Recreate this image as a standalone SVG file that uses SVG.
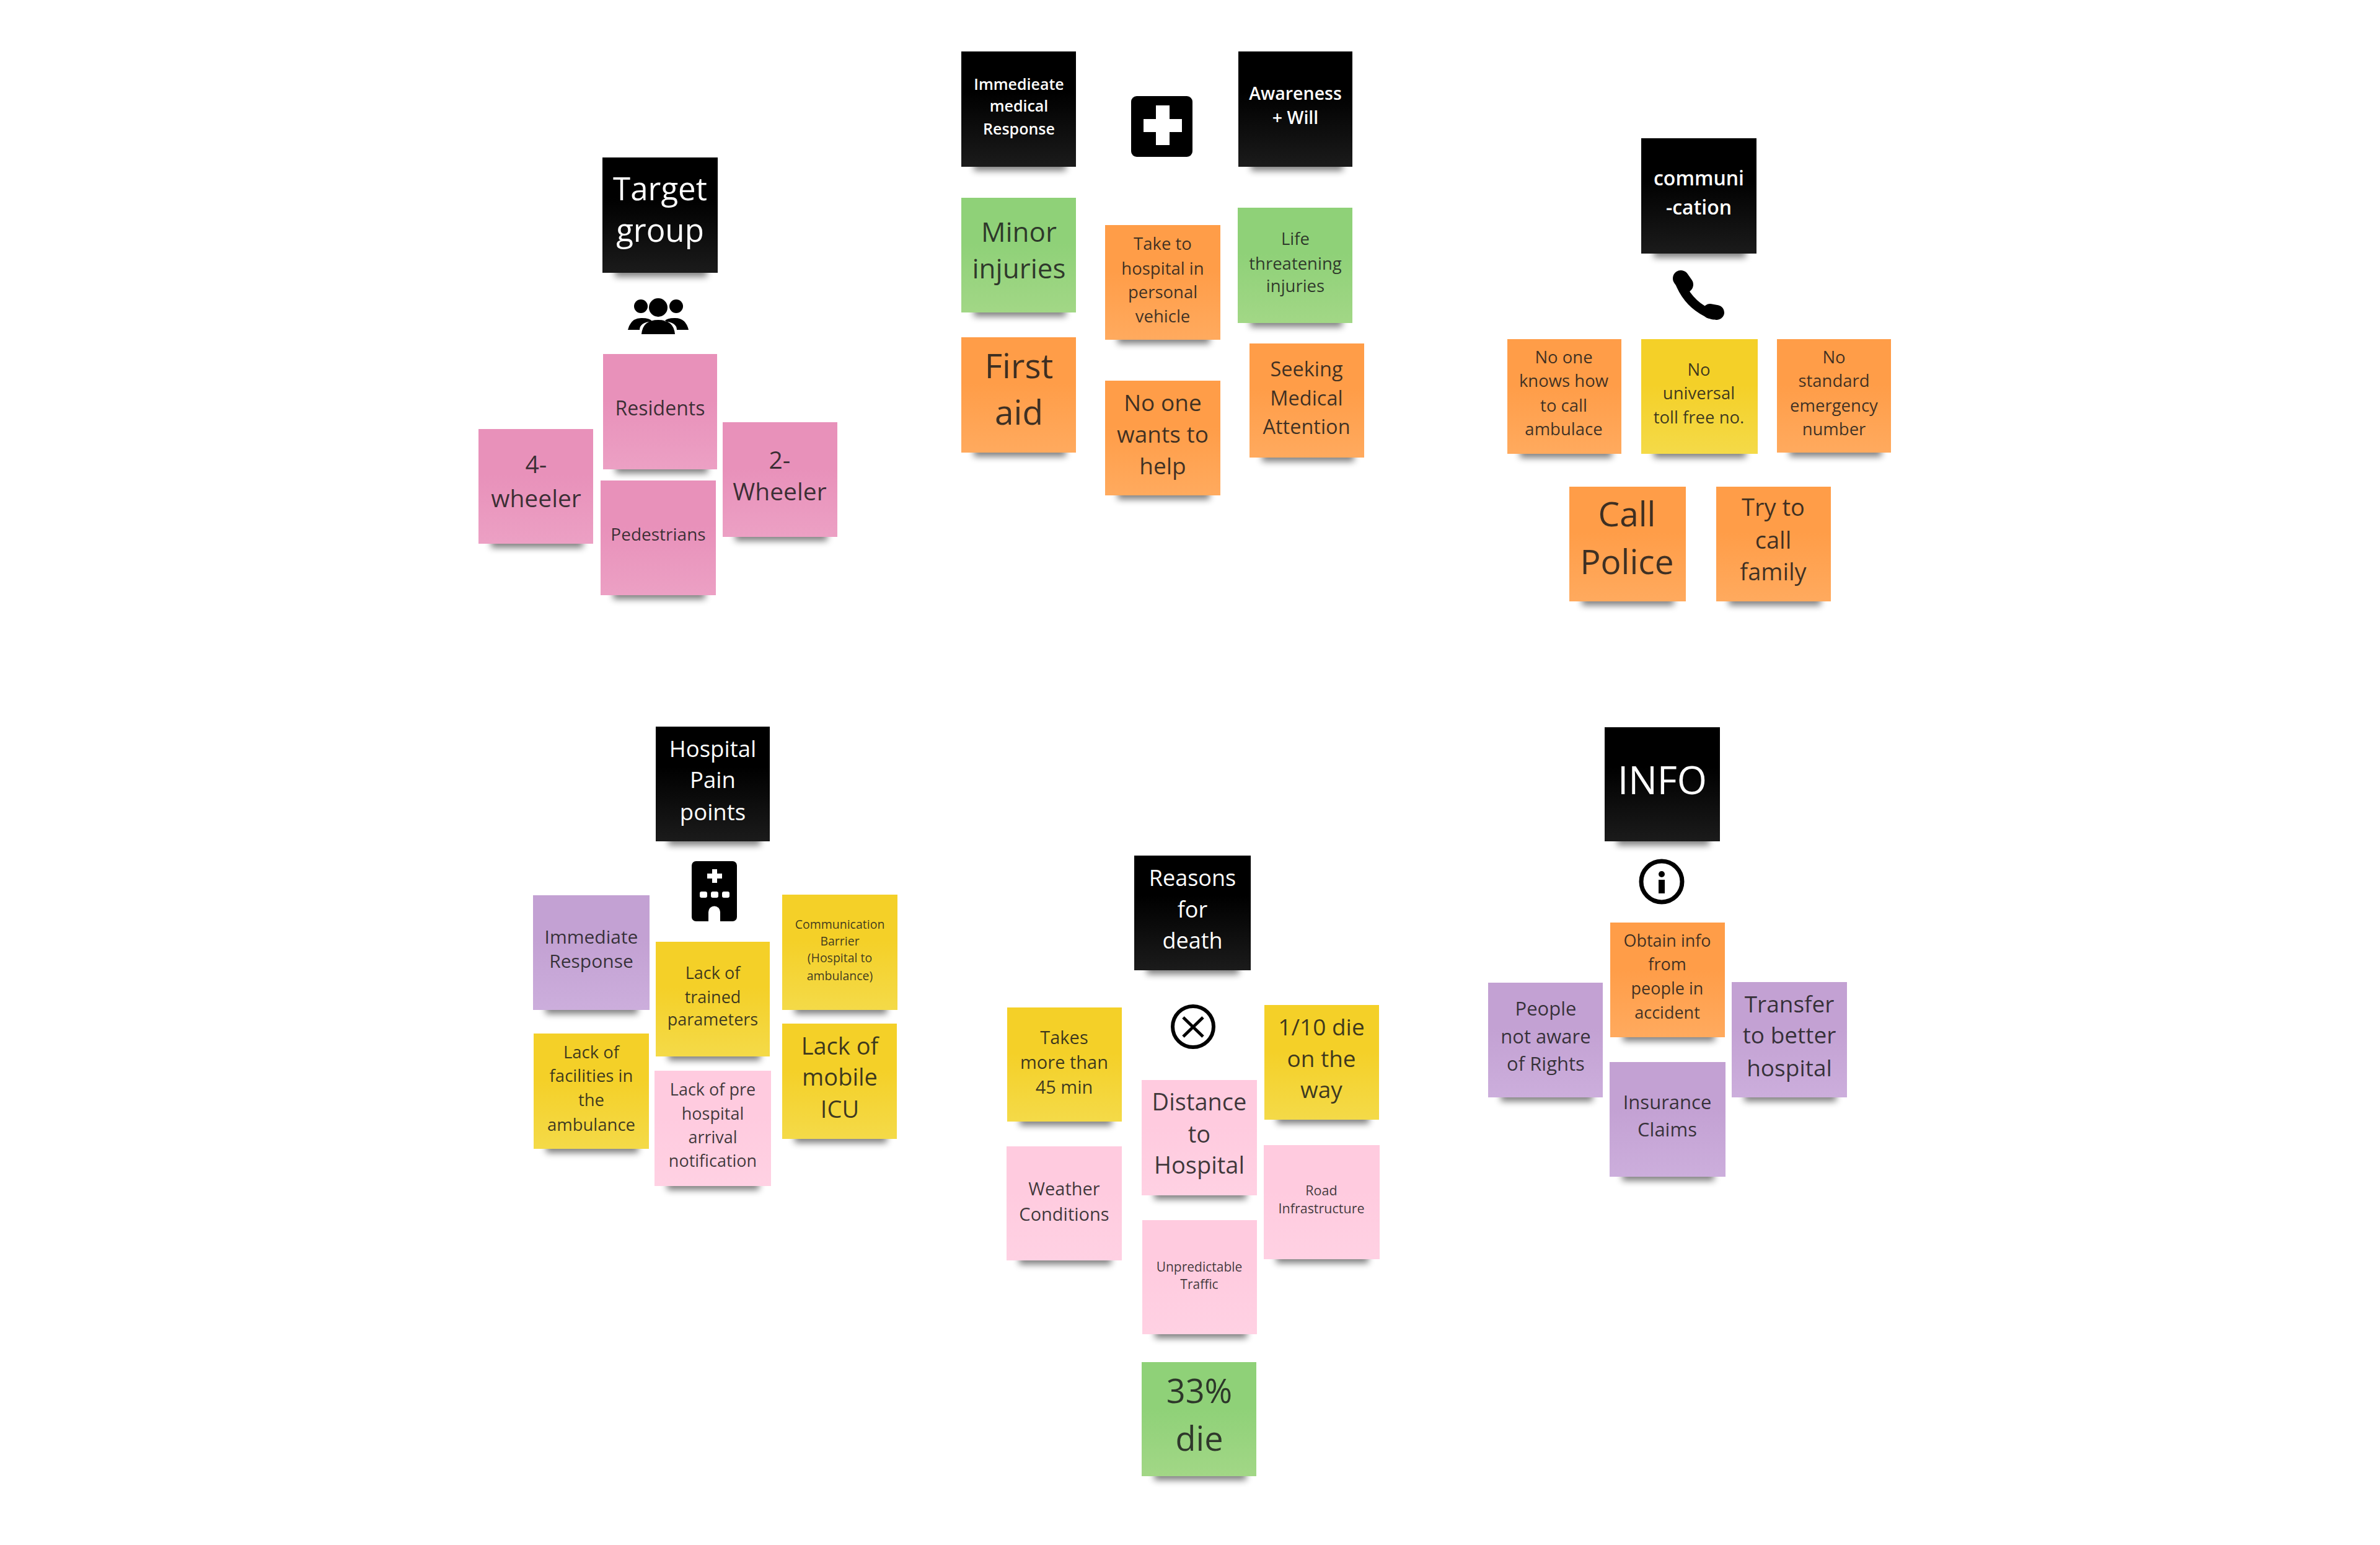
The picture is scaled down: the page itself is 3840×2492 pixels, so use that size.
<svg xmlns="http://www.w3.org/2000/svg" width="3840" height="2492" viewBox="0 0 3840 2492">
<style>
text{font-family:"Open Sans","Noto Sans","Liberation Sans",sans-serif;text-anchor:middle;fill:#1c1c1c;fill-opacity:.85;transform:translateY(1px)}
.w text{fill:#fff;fill-opacity:1;font-weight:500}
.w.b text{font-weight:600}
.s{fill:#000;opacity:.5;filter:url(#b);transform-box:fill-box;transform-origin:center;transform:translateY(-2px) scaleX(.9) scaleY(.85)}
.k{fill:url(#gk)}.p{fill:url(#gp)}.g{fill:url(#gg)}.o{fill:url(#go)}.y{fill:url(#gy)}.l{fill:url(#gl)}.v{fill:url(#gv)}
.ic{fill:#000}
</style>
<defs>
<filter id="b" x="-20%" y="-100%" width="140%" height="300%"><feGaussianBlur stdDeviation="6"/></filter>
<linearGradient id="gk" x1="0" y1="0" x2="0" y2="1"><stop offset=".35" stop-color="#000"/><stop offset="1" stop-color="#1b1b1b"/></linearGradient>
<linearGradient id="gp" x1="0" y1="0" x2="0" y2="1"><stop offset=".4" stop-color="#E891BA"/><stop offset="1" stop-color="#ECA0C4"/></linearGradient>
<linearGradient id="gg" x1="0" y1="0" x2="0" y2="1"><stop offset=".4" stop-color="#8FD178"/><stop offset="1" stop-color="#A2D786"/></linearGradient>
<linearGradient id="go" x1="0" y1="0" x2="0" y2="1"><stop offset=".4" stop-color="#FF9D48"/><stop offset="1" stop-color="#FFAA5E"/></linearGradient>
<linearGradient id="gy" x1="0" y1="0" x2="0" y2="1"><stop offset=".4" stop-color="#F4D028"/><stop offset="1" stop-color="#F4DA48"/></linearGradient>
<linearGradient id="gl" x1="0" y1="0" x2="0" y2="1"><stop offset=".4" stop-color="#FFCBDF"/><stop offset="1" stop-color="#FFD1E3"/></linearGradient>
<linearGradient id="gv" x1="0" y1="0" x2="0" y2="1"><stop offset=".4" stop-color="#C3A1D3"/><stop offset="1" stop-color="#CCAEDC"/></linearGradient>
</defs>
<rect width="3840" height="2492" fill="#fff"/>

<g id="target-group" class="w"><rect class="s" x="984" y="430" width="165" height="20"/><rect class="k" x="972" y="254" width="186" height="186"/><g font-size="51"><text x="1065" y="322">Target</text><text x="1065" y="389">group</text></g></g>
<g id="icon-people"><circle class="ic" cx="1034" cy="494" r="11"/><circle class="ic" cx="1062" cy="496" r="15"/><circle class="ic" cx="1091" cy="494" r="11"/><path class="ic" d="M1013,532Q1018,512 1036,513Q1048,513 1052,518Q1032,520 1032,532ZM1111,532Q1106,512 1088,513Q1076,513 1072,518Q1092,520 1092,532ZM1035,539Q1037,516 1062,516Q1087,516 1089,539Z"/></g>
<g id="residents"><rect class="s" x="985" y="747" width="165" height="20"/><rect class="p" x="973" y="571" width="184" height="186"/><text x="1065" y="669" font-size="32">Residents</text></g>
<g id="four-wheeler"><rect class="s" x="784" y="867" width="165" height="20"/><rect class="p" x="772" y="692" width="185" height="185"/><g font-size="39"><text x="865" y="762">4-</text><text x="865" y="817">wheeler</text></g></g>
<g id="two-wheeler"><rect class="s" x="1178" y="856" width="165" height="20"/><rect class="p" x="1166" y="681" width="185" height="185"/><g font-size="39"><text x="1258" y="755">2-</text><text x="1258" y="806">Wheeler</text></g></g>
<g id="pedestrians"><rect class="s" x="981" y="950" width="165" height="20"/><rect class="p" x="969" y="775" width="186" height="185"/><text x="1062" y="871" font-size="28">Pedestrians</text></g>

<g id="immediate-medical" class="w b"><rect class="s" x="1563" y="259" width="165" height="20"/><rect class="k" x="1551" y="83" width="185" height="186"/><g font-size="25"><text x="1644" y="144">Immedieate</text><text x="1644" y="179">medical</text><text x="1644" y="216">Response</text></g></g>
<g id="icon-plus"><rect class="ic" x="1825" y="155" width="99" height="98" rx="9"/><path fill="#fff" d="M1865,170h22v22h20v21h-20v21h-22v-21h-20v-21h20z"/></g>
<g id="awareness" class="w b"><rect class="s" x="2010" y="259" width="165" height="20"/><rect class="k" x="1998" y="83" width="184" height="186"/><g font-size="28.500"><text x="2090" y="160">Awareness</text><text x="2090" y="199">+ Will</text></g></g>
<g id="minor-injuries"><rect class="s" x="1563" y="494" width="165" height="20"/><rect class="g" x="1551" y="319" width="185" height="185"/><g font-size="44"><text x="1644" y="389">Minor</text><text x="1644" y="448">injuries</text></g></g>
<g id="life-threatening"><rect class="s" x="2009" y="511" width="165" height="20"/><rect class="g" x="1997" y="335" width="185" height="186"/><g font-size="27.500"><text x="2090" y="394">Life</text><text x="2090" y="434">threatening</text><text x="2090" y="470">injuries</text></g></g>
<g id="take-to-hospital"><rect class="s" x="1795" y="538" width="165" height="20"/><rect class="o" x="1783" y="363" width="186" height="185"/><g font-size="27.500"><text x="1876" y="402">Take to</text><text x="1876" y="442">hospital in</text><text x="1876" y="480">personal</text><text x="1876" y="519">vehicle</text></g></g>
<g id="first-aid"><rect class="s" x="1563" y="720" width="165" height="20"/><rect class="o" x="1551" y="544" width="185" height="186"/><g font-size="55"><text x="1644" y="609">First</text><text x="1644" y="684">aid</text></g></g>
<g id="seeking-attention"><rect class="s" x="2028" y="728" width="165" height="20"/><rect class="o" x="2016" y="554" width="185" height="184"/><g font-size="32.500"><text x="2108" y="606">Seeking</text><text x="2108" y="653">Medical</text><text x="2108" y="699">Attention</text></g></g>
<g id="no-one-help"><rect class="s" x="1795" y="789" width="165" height="20"/><rect class="o" x="1783" y="614" width="186" height="185"/><g font-size="37"><text x="1876" y="662">No one</text><text x="1876" y="713">wants to</text><text x="1876" y="764">help</text></g></g>

<g id="communication" class="w b"><rect class="s" x="2660" y="399" width="165" height="20"/><rect class="k" x="2648" y="223" width="186" height="186"/><g font-size="32"><text x="2741" y="298">communi</text><text x="2741" y="345">-cation</text></g></g>
<g id="icon-phone" fill="none" stroke="#000" stroke-linecap="round"><path stroke-width="26" d="M2712,449L2719,459"/><path stroke-width="15" d="M2712,460Q2728,495 2764,508"/><path stroke-width="24" d="M2759,502L2770,504"/></g>
<g id="no-one-knows"><rect class="s" x="2444" y="722" width="165" height="20"/><rect class="o" x="2432" y="547" width="184" height="185"/><g font-size="27.500"><text x="2523" y="585">No one</text><text x="2523" y="623">knows how</text><text x="2523" y="663">to call</text><text x="2523" y="701">ambulace</text></g></g>
<g id="no-universal"><rect class="s" x="2660" y="722" width="165" height="20"/><rect class="y" x="2648" y="547" width="188" height="185"/><g font-size="27.500"><text x="2741" y="605">No</text><text x="2741" y="643">universal</text><text x="2741" y="682">toll free no.</text></g></g>
<g id="no-standard"><rect class="s" x="2879" y="720" width="165" height="20"/><rect class="o" x="2867" y="547" width="184" height="183"/><g font-size="27.500"><text x="2959" y="585">No</text><text x="2959" y="623">standard</text><text x="2959" y="663">emergency</text><text x="2959" y="701">number</text></g></g>
<g id="call-police"><rect class="s" x="2544" y="960" width="165" height="20"/><rect class="o" x="2532" y="785" width="188" height="185"/><g font-size="55"><text x="2625" y="848">Call</text><text x="2625" y="925">Police</text></g></g>
<g id="try-family"><rect class="s" x="2781" y="960" width="165" height="20"/><rect class="o" x="2769" y="785" width="185" height="185"/><g font-size="38"><text x="2861" y="831">Try to</text><text x="2861" y="884">call</text><text x="2861" y="935">family</text></g></g>

<g id="hospital-pain" class="w"><rect class="s" x="1070" y="1347" width="165" height="20"/><rect class="k" x="1058" y="1172" width="184" height="185"/><g font-size="36.500"><text x="1150" y="1220">Hospital</text><text x="1150" y="1270">Pain</text><text x="1150" y="1322">points</text></g></g>
<g id="icon-hospital"><rect class="ic" x="1116" y="1389" width="73" height="97" rx="7"/><path fill="#fff" d="M1149,1402h8v7h8v8h-8v7h-8v-7h-8v-8h8z"/><rect fill="#fff" x="1129" y="1438" width="12" height="10" rx="3"/><rect fill="#fff" x="1147" y="1438" width="12" height="10" rx="3"/><rect fill="#fff" x="1165" y="1438" width="12" height="10" rx="3"/><path fill="#fff" d="M1143,1486v-15a9.500,9.500 0 0 1 19,0v15z"/></g>
<g id="immediate-response"><rect class="s" x="872" y="1619" width="165" height="20"/><rect class="v" x="860" y="1444" width="188" height="185"/><g font-size="30"><text x="954" y="1521">Immediate</text><text x="954" y="1560">Response</text></g></g>
<g id="communication-barrier"><rect class="s" x="1274" y="1619" width="165" height="20"/><rect class="y" x="1262" y="1443" width="186" height="186"/><g font-size="19.500"><text x="1355" y="1497">Communication</text><text x="1355" y="1524">Barrier</text><text x="1355" y="1551">(Hospital to</text><text x="1355" y="1580">ambulance)</text></g></g>
<g id="lack-trained"><rect class="s" x="1070" y="1694" width="165" height="20"/><rect class="y" x="1058" y="1519" width="184" height="185"/><g font-size="27"><text x="1150" y="1578">Lack of</text><text x="1150" y="1617">trained</text><text x="1150" y="1653">parameters</text></g></g>
<g id="lack-facilities"><rect class="s" x="873" y="1843" width="165" height="20"/><rect class="y" x="861" y="1667" width="186" height="186"/><g font-size="27.500"><text x="954" y="1706">Lack of</text><text x="954" y="1744">facilities in</text><text x="954" y="1783">the</text><text x="954" y="1823">ambulance</text></g></g>
<g id="lack-mobile-icu"><rect class="s" x="1274" y="1827" width="165" height="20"/><rect class="y" x="1262" y="1651" width="185" height="186"/><g font-size="38"><text x="1355" y="1700">Lack of</text><text x="1355" y="1750">mobile</text><text x="1355" y="1802">ICU</text></g></g>
<g id="lack-pre-hospital"><rect class="s" x="1068" y="1903" width="165" height="20"/><rect class="l" x="1056" y="1727" width="188" height="186"/><g font-size="27"><text x="1150" y="1766">Lack of pre</text><text x="1150" y="1805">hospital</text><text x="1150" y="1843">arrival</text><text x="1150" y="1881">notification</text></g></g>

<g id="reasons-death" class="w"><rect class="s" x="1842" y="1555" width="165" height="20"/><rect class="k" x="1830" y="1380" width="188" height="185"/><g font-size="36"><text x="1924" y="1428">Reasons</text><text x="1924" y="1479">for</text><text x="1924" y="1529">death</text></g></g>
<g id="icon-cross" fill="none" stroke="#000"><circle cx="1925" cy="1656" r="33" stroke-width="6"/><path stroke-width="5" d="M1909,1641L1941,1672M1941,1641L1909,1672"/></g>
<g id="takes-45"><rect class="s" x="1637" y="1799" width="165" height="20"/><rect class="y" x="1625" y="1625" width="185" height="184"/><g font-size="29"><text x="1717" y="1683">Takes</text><text x="1717" y="1723">more than</text><text x="1717" y="1763">45 min</text></g></g>
<g id="one-tenth"><rect class="s" x="2052" y="1796" width="165" height="20"/><rect class="y" x="2040" y="1621" width="185" height="185"/><g font-size="37"><text x="2132" y="1669">1/10 die</text><text x="2132" y="1720">on the</text><text x="2132" y="1770">way</text></g></g>
<g id="distance"><rect class="s" x="1854" y="1918" width="165" height="20"/><rect class="l" x="1842" y="1742" width="186" height="186"/><g font-size="38"><text x="1935" y="1790">Distance</text><text x="1935" y="1842">to</text><text x="1935" y="1892">Hospital</text></g></g>
<g id="weather"><rect class="s" x="1636" y="2023" width="165" height="20"/><rect class="l" x="1624" y="1849" width="186" height="184"/><g font-size="29"><text x="1717" y="1927">Weather</text><text x="1717" y="1968">Conditions</text></g></g>
<g id="road"><rect class="s" x="2051" y="2021" width="165" height="20"/><rect class="l" x="2039" y="1847" width="187" height="184"/><g font-size="21.500"><text x="2132" y="1927">Road</text><text x="2132" y="1956">Infrastructure</text></g></g>
<g id="traffic"><rect class="s" x="1855" y="2142" width="165" height="20"/><rect class="l" x="1843" y="1968" width="185" height="184"/><g font-size="21"><text x="1935" y="2050">Unpredictable</text><text x="1935" y="2078">Traffic</text></g></g>
<g id="thirty-three"><rect class="s" x="1854" y="2371" width="165" height="20"/><rect class="g" x="1842" y="2197" width="185" height="184"/><g font-size="54"><text x="1935" y="2262">33%</text><text x="1935" y="2339">die</text></g></g>

<g id="info" class="w"><rect class="s" x="2601" y="1347" width="165" height="20"/><rect class="k" x="2589" y="1173" width="186" height="184"/><text x="2682" y="1280" font-size="62" style="font-weight:400">INFO</text></g>
<g id="icon-info"><circle cx="2681" cy="1422" r="33" fill="none" stroke="#000" stroke-width="7"/><circle class="ic" cx="2681" cy="1410" r="5"/><rect class="ic" x="2676" y="1419" width="10" height="22"/></g>
<g id="obtain-info"><rect class="s" x="2610" y="1663" width="165" height="20"/><rect class="o" x="2598" y="1488" width="185" height="185"/><g font-size="27"><text x="2690" y="1526">Obtain info</text><text x="2690" y="1564">from</text><text x="2690" y="1603">people in</text><text x="2690" y="1642">accident</text></g></g>
<g id="not-aware"><rect class="s" x="2413" y="1760" width="165" height="20"/><rect class="v" x="2401" y="1585" width="185" height="185"/><g font-size="31"><text x="2494" y="1637">People</text><text x="2494" y="1682">not aware</text><text x="2494" y="1726">of Rights</text></g></g>
<g id="transfer"><rect class="s" x="2806" y="1760" width="165" height="20"/><rect class="v" x="2794" y="1584" width="186" height="186"/><g font-size="37"><text x="2887" y="1632">Transfer</text><text x="2887" y="1682">to better</text><text x="2887" y="1735">hospital</text></g></g>
<g id="insurance"><rect class="s" x="2609" y="1888" width="165" height="20"/><rect class="v" x="2597" y="1713" width="187" height="185"/><g font-size="31"><text x="2690" y="1788">Insurance</text><text x="2690" y="1832">Claims</text></g></g>
</svg>
